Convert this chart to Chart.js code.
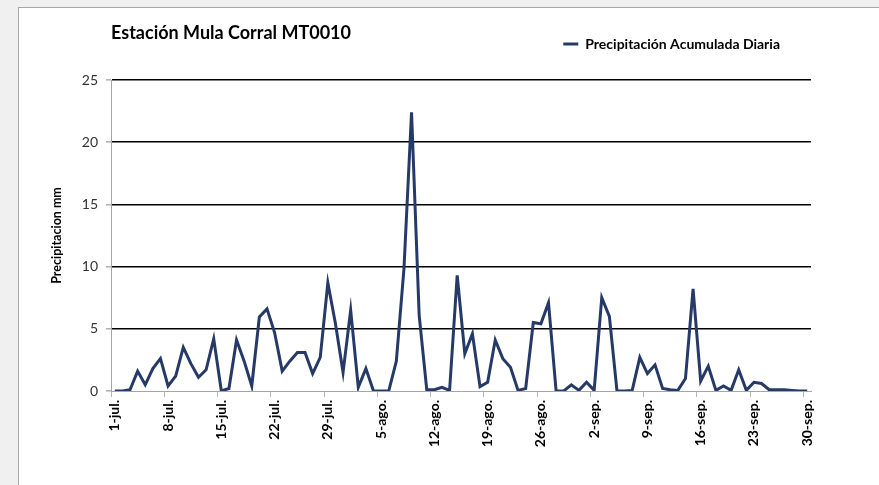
<!DOCTYPE html>
<html>
<head>
<meta charset="utf-8">
<script src="https://cdn.jsdelivr.net/npm/chart.js@4.4.1/dist/chart.umd.min.js"></script>
<style>
  html, body { margin: 0; padding: 0; width: 879px; height: 485px; overflow: hidden; background: #f0f0f0; }
  #frame { position: absolute; left: 18px; top: 7px; width: 900px; height: 500px; background: #fff; border: 1px solid #a6a6a6; }
  #wrap { position: absolute; left: 0; top: 0; width: 879px; height: 485px; }
</style>
</head>
<body>
<div id="frame"></div>
<div id="wrap"><canvas id="c" width="879" height="485"></canvas></div>
<script>
const chartTitle = 'Estación Mula Corral MT0010';
const seriesName = 'Precipitación Acumulada Diaria';
const yAxisTitle = 'Precipitacion mm';
const months = ['jul', 'ago', 'sep'];
const monthDays = [31, 31, 30];
// categories: one per day, 1-jul. ... 30-sep.
const categories = [];
months.forEach((m, k) => { for (let d = 1; d <= monthDays[k]; d++) categories.push(d + '-' + m + '.'); });
const precipitation = [
  0, 0, 0.1, 1.6, 0.5, 1.8, 2.6, 0.4, 1.2, 3.5,
  2.2, 1.1, 1.7, 4.2, 0, 0.2, 4.1, 2.4, 0.4, 5.95,
  6.6, 4.7, 1.6, 2.4, 3.1, 3.1, 1.4, 2.7, 8.7, 5.4,
  1.5, 6.5, 0.3, 1.8, 0, 0, 0, 2.4, 9.8, 22.4,
  6.1, 0.1, 0.1, 0.3, 0.05, 9.3, 3.0, 4.6, 0.35, 0.7,
  4.1, 2.6, 1.9, 0.05, 0.2, 5.5, 5.4, 7.1, 0, 0,
  0.5, 0.05, 0.7, 0.05, 7.5, 6.0, 0, 0, 0.05, 2.7,
  1.4, 2.1, 0.2, 0.1, 0.05, 1.0, 8.2, 0.8, 2.0, 0.05,
  0.4, 0.05, 1.7, 0.05, 0.7, 0.6, 0.1, 0.1, 0.1, 0.05,
  0, 0
];
const tickEvery = 7;
const yTicks = [0, 5, 10, 15, 20, 25];

const FONT = 'Lato';

new Chart(document.getElementById('c'), {
  type: 'line',
  data: {
    labels: categories,
    datasets: [{
      label: seriesName,
      data: precipitation,
      borderColor: '#263a68',
      backgroundColor: '#263a68',
      borderWidth: 3,
      pointRadius: 0,
      tension: 0,
      fill: false
    }]
  },
  options: {
    responsive: false,
    animation: false,
    devicePixelRatio: 1,
    layout: { padding: { left: 43, right: 68, top: 0, bottom: 0 } },
    plugins: {
      title: {
        display: true,
        text: chartTitle,
        align: 'start',
        fullSize: false,
        color: '#000',
        font: { family: FONT, size: 18, weight: 'bold' },
        padding: { top: 22.2, bottom: -37.8 }
      },
      legend: {
        display: true,
        position: 'top',
        align: 'end',
        fullSize: false,
        labels: {
          usePointStyle: true,
          pointStyle: 'line',
          pointStyleWidth: 15,
          padding: 31,
          color: '#000',
          font: { family: FONT, size: 14, weight: 'bold' }
        }
      },
      subtitle: {
        display: true,
        text: '',
        weight: 500,
        fullSize: false,
        font: { size: 10, lineHeight: 1 },
        padding: { top: 9, bottom: 0 }
      },
      tooltip: { enabled: false }
    },
    scales: {
      x: {
        type: 'category',
        offset: true,
        afterFit: (scale) => { scale.height = 94; },
        ticks: {
          autoSkip: false,
          maxRotation: 90,
          minRotation: 90,
          padding: 3,
          color: '#000',
          font: { family: FONT, size: 14, weight: 'bold' },
          callback: (v, i) => (i % tickEvery === 0 ? categories[i] : '')
        },
        grid: {
          offset: true,
          drawOnChartArea: false,
          drawTicks: true,
          tickLength: 6,
          tickColor: (ctx) => (ctx.index % tickEvery === 0 ? '#b4b4b4' : 'rgba(0,0,0,0)'),
          color: (ctx) => (ctx.index % tickEvery === 0 ? '#b4b4b4' : 'rgba(0,0,0,0)'),
          lineWidth: 1
        },
        border: { display: true, color: '#a6a6a6', width: 1 }
      },
      y: {
        min: 0,
        max: 25,
        afterBuildTicks: (axis) => { axis.ticks = yTicks.map(v => ({ value: v })); },
        afterFit: (scale) => { scale.width = 68; },
        ticks: {
          padding: 8,
          color: '#333',
          font: { family: FONT, size: 14 }
        },
        grid: {
          drawTicks: true,
          tickLength: 5,
          tickColor: '#b4b4b4',
          lineWidth: 1.6,
          color: (ctx) => (ctx.tick && ctx.tick.value === 0) ? 'rgba(0,0,0,0)' : '#000'
        },
        border: { display: true, color: '#a6a6a6', width: 1 },
        title: {
          display: true,
          text: yAxisTitle,
          color: '#000',
          font: { family: FONT, size: 12.5, weight: 'bold' },
          padding: { top: 6, bottom: 0 }
        }
      }
    }
  }
});
</script>
</body>
</html>
